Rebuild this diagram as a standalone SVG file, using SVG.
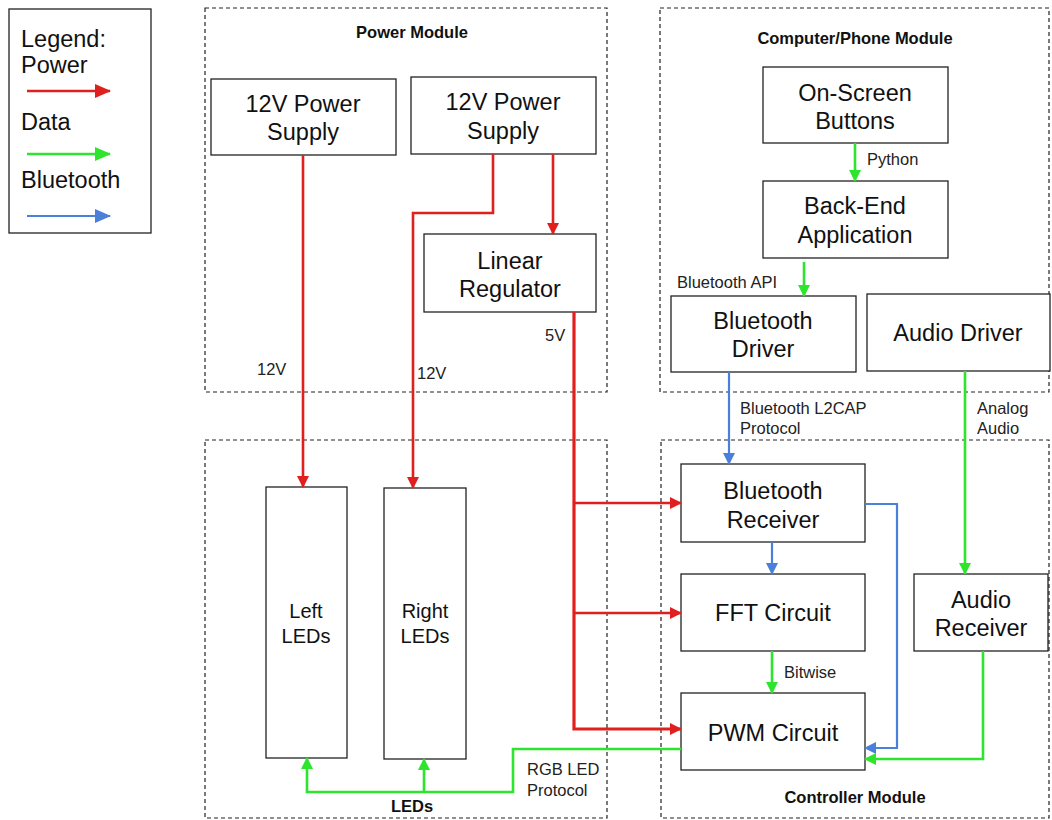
<svg xmlns="http://www.w3.org/2000/svg" width="1052" height="820" viewBox="0 0 1052 820">
<style>
  .box { fill: #fff; stroke: #222; stroke-width: 1.3; }
  .mod { fill: none; stroke: #222; stroke-width: 1.2; stroke-dasharray: 4 3; }
  .t { font-family: "Liberation Sans", Arial, sans-serif; font-size: 23.5px; fill: #111; text-anchor: middle; }
  .tl { font-family: "Liberation Sans", Arial, sans-serif; font-size: 20px; fill: #111; text-anchor: middle; }
  .s { font-family: "Liberation Sans", Arial, sans-serif; font-size: 16.5px; fill: #222; }
  .b { font-family: "Liberation Sans", Arial, sans-serif; font-size: 16.5px; font-weight: bold; fill: #111; text-anchor: middle; }
  .lg { font-family: "Liberation Sans", Arial, sans-serif; font-size: 23.5px; fill: #111; }
  .red { fill: none; stroke: #e0201e; stroke-width: 2.6; }
  .grn { fill: none; stroke: #2ee52e; stroke-width: 2.6; }
  .blu { fill: none; stroke: #4a80d9; stroke-width: 2.2; }
</style>
<defs>
  <marker id="ar" markerUnits="userSpaceOnUse" markerWidth="12" markerHeight="12" refX="11" refY="6" orient="auto"><path d="M0,0 L12,6 L0,12 z" fill="#e0201e"/></marker>
  <marker id="ag" markerUnits="userSpaceOnUse" markerWidth="12" markerHeight="12" refX="11" refY="6" orient="auto"><path d="M0,0 L12,6 L0,12 z" fill="#2ee52e"/></marker>
  <marker id="ab" markerUnits="userSpaceOnUse" markerWidth="12" markerHeight="12" refX="11" refY="6" orient="auto"><path d="M0,0 L12,6 L0,12 z" fill="#4a80d9"/></marker>
  <marker id="arL" markerUnits="userSpaceOnUse" markerWidth="16" markerHeight="14" refX="15" refY="7" orient="auto"><path d="M0,0 L16,7 L0,14 z" fill="#e0201e"/></marker>
  <marker id="agL" markerUnits="userSpaceOnUse" markerWidth="16" markerHeight="14" refX="15" refY="7" orient="auto"><path d="M0,0 L16,7 L0,14 z" fill="#2ee52e"/></marker>
  <marker id="abL" markerUnits="userSpaceOnUse" markerWidth="16" markerHeight="14" refX="15" refY="7" orient="auto"><path d="M0,0 L16,7 L0,14 z" fill="#4a80d9"/></marker>
</defs>
<rect width="1052" height="820" fill="#fff"/>

<g id="legend">
  <rect x="9" y="9" width="142" height="224" fill="#fff" stroke="#222" stroke-width="1.3"/>
  <text class="lg" x="21" y="47">Legend:</text>
  <text class="lg" x="21" y="73">Power</text>
  <line x1="27" y1="91" x2="110" y2="91" class="red" marker-end="url(#arL)"/>
  <text class="lg" x="21" y="130">Data</text>
  <line x1="27" y1="154" x2="110" y2="154" class="grn" marker-end="url(#agL)"/>
  <text class="lg" x="21" y="188">Bluetooth</text>
  <line x1="27" y1="216" x2="110" y2="216" class="blu" marker-end="url(#abL)"/>
</g>

<g id="power-module">
  <rect class="mod" x="205" y="8" width="402" height="384"/>
  <text class="b" x="412" y="38">Power Module</text>
</g>
<g id="computer-module">
  <rect class="mod" x="660" y="8" width="389" height="384"/>
  <text class="b" x="855" y="44">Computer/Phone Module</text>
</g>
<g id="leds-module">
  <rect class="mod" x="205" y="440" width="402" height="378"/>
  <text class="b" x="412" y="812">LEDs</text>
</g>
<g id="controller-module">
  <rect class="mod" x="661" y="440" width="388" height="378"/>
  <text class="b" x="855" y="803">Controller Module</text>
</g>

<g id="ps1"><rect class="box" x="211" y="79" width="185" height="76"/><text class="t" x="303" y="112">12V Power</text><text class="t" x="303" y="140">Supply</text></g>
<g id="ps2"><rect class="box" x="411" y="77" width="185" height="77"/><text class="t" x="503" y="110">12V Power</text><text class="t" x="503" y="139">Supply</text></g>
<g id="linreg"><rect class="box" x="424" y="234" width="172" height="78"/><text class="t" x="510" y="269">Linear</text><text class="t" x="510" y="297">Regulator</text></g>

<g id="onscreen"><rect class="box" x="763" y="67" width="185" height="76"/><text class="t" x="855" y="101">On-Screen</text><text class="t" x="855" y="129">Buttons</text></g>
<g id="backend"><rect class="box" x="763" y="181" width="185" height="77"/><text class="t" x="855" y="214">Back-End</text><text class="t" x="855" y="243">Application</text></g>
<g id="btdriver"><rect class="box" x="671" y="296" width="185" height="76"/><text class="t" x="763" y="329">Bluetooth</text><text class="t" x="763" y="357">Driver</text></g>
<g id="audiodriver"><rect class="box" x="867" y="294" width="183" height="77"/><text class="t" x="958" y="341">Audio Driver</text></g>

<g id="leftleds"><rect class="box" x="266" y="487" width="81" height="271"/><text class="tl" x="306" y="618">Left</text><text class="tl" x="306" y="643">LEDs</text></g>
<g id="rightleds"><rect class="box" x="384" y="488" width="82" height="271"/><text class="tl" x="425" y="618">Right</text><text class="tl" x="425" y="643">LEDs</text></g>

<g id="btreceiver"><rect class="box" x="681" y="464" width="184" height="78"/><text class="t" x="773" y="499">Bluetooth</text><text class="t" x="773" y="528">Receiver</text></g>
<g id="fft"><rect class="box" x="681" y="574" width="184" height="77"/><text class="t" x="773" y="621">FFT Circuit</text></g>
<g id="pwm"><rect class="box" x="681" y="693" width="184" height="77"/><text class="t" x="773" y="741">PWM Circuit</text></g>
<g id="audioreceiver"><rect class="box" x="914" y="574" width="134" height="77"/><text class="t" x="981" y="608">Audio</text><text class="t" x="981" y="636">Receiver</text></g>

<g id="connectors">
  <path class="red" d="M303,155 V487" marker-end="url(#ar)"/>
  <path class="red" d="M493,154 V213 H413 V488" marker-end="url(#ar)"/>
  <path class="red" d="M553,154 V234" marker-end="url(#ar)"/>
  <path class="red" d="M574,312 V729 H681" style="stroke-width:3.2" marker-end="url(#ar)"/>
  <path class="red" d="M574,503 H681" marker-end="url(#ar)"/>
  <path class="red" d="M574,613 H681" marker-end="url(#ar)"/>
  <text class="s" x="257" y="375">12V</text>
  <text class="s" x="417" y="379">12V</text>
  <text class="s" x="545" y="341">5V</text>

  <path class="grn" d="M855,143 V181" marker-end="url(#ag)"/>
  <text class="s" x="867" y="165">Python</text>
  <path class="grn" d="M804,262 V296" marker-end="url(#ag)"/>
  <text class="s" x="677" y="288">Bluetooth API</text>

  <path class="blu" d="M729,372 V464" marker-end="url(#ab)"/>
  <text class="s" x="740" y="414">Bluetooth L2CAP</text>
  <text class="s" x="740" y="434">Protocol</text>
  <path class="grn" d="M965,371 V574" marker-end="url(#ag)"/>
  <text class="s" x="977" y="414">Analog</text>
  <text class="s" x="977" y="434">Audio</text>

  <path class="blu" d="M772,542 V574" marker-end="url(#ab)"/>
  <path class="blu" d="M865,504 H897 V748 H865" marker-end="url(#ab)"/>
  <path class="grn" d="M983,651 V759 H865" marker-end="url(#ag)"/>
  <path class="grn" d="M772,651 V693" marker-end="url(#ag)"/>
  <text class="s" x="784" y="678">Bitwise</text>

  <path class="grn" d="M681,749 H513 V792 H307 V758" marker-end="url(#ag)"/>
  <path class="grn" d="M424,792 V759" marker-end="url(#ag)"/>
  <text class="s" x="527" y="775">RGB LED</text>
  <text class="s" x="527" y="796">Protocol</text>
</g>
</svg>
